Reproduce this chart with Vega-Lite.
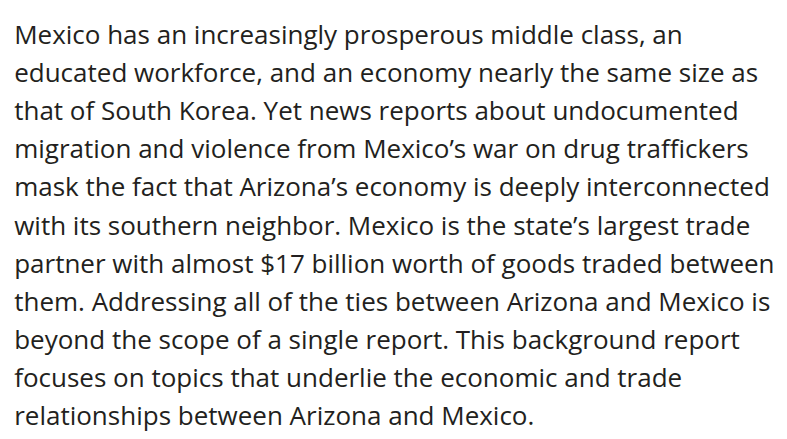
{
  "$schema": "https://vega.github.io/schema/vega-lite/v6.json",
  "width": 787,
  "height": 439,
  "autosize": {"type": "fit", "contains": "padding"},
  "padding": 0,
  "background": "#ffffff",
  "config": {"view": {"stroke": null}},
  "data": {
    "values": [
      {"line": 1, "text": "Mexico has an increasingly prosperous middle class, an"},
      {"line": 2, "text": "educated workforce, and an economy nearly the same size as"},
      {"line": 3, "text": "that of South Korea. Yet news reports about undocumented"},
      {"line": 4, "text": "migration and violence from Mexico’s war on drug traffickers"},
      {"line": 5, "text": "mask the fact that Arizona’s economy is deeply interconnected"},
      {"line": 6, "text": "with its southern neighbor. Mexico is the state’s largest trade"},
      {"line": 7, "text": "partner with almost $17 billion worth of goods traded between"},
      {"line": 8, "text": "them. Addressing all of the ties between Arizona and Mexico is"},
      {"line": 9, "text": "beyond the scope of a single report. This background report"},
      {"line": 10, "text": "focuses on topics that underlie the economic and trade"},
      {"line": 11, "text": "relationships between Arizona and Mexico."}
    ]
  },
  "mark": {
    "type": "text",
    "align": "left",
    "baseline": "alphabetic",
    "font": "Open Sans",
    "fontSize": 26,
    "color": "#231f20"
  },
  "encoding": {
    "x": {"datum": 0.018, "type": "quantitative", "scale": {"domain": [0, 1]}, "axis": null},
    "y": {"field": "line", "type": "quantitative", "scale": {"domain": [-0.1549, 11.367], "reverse": true, "nice": false, "zero": false}, "axis": null},
    "text": {"field": "text"}
  }
}
